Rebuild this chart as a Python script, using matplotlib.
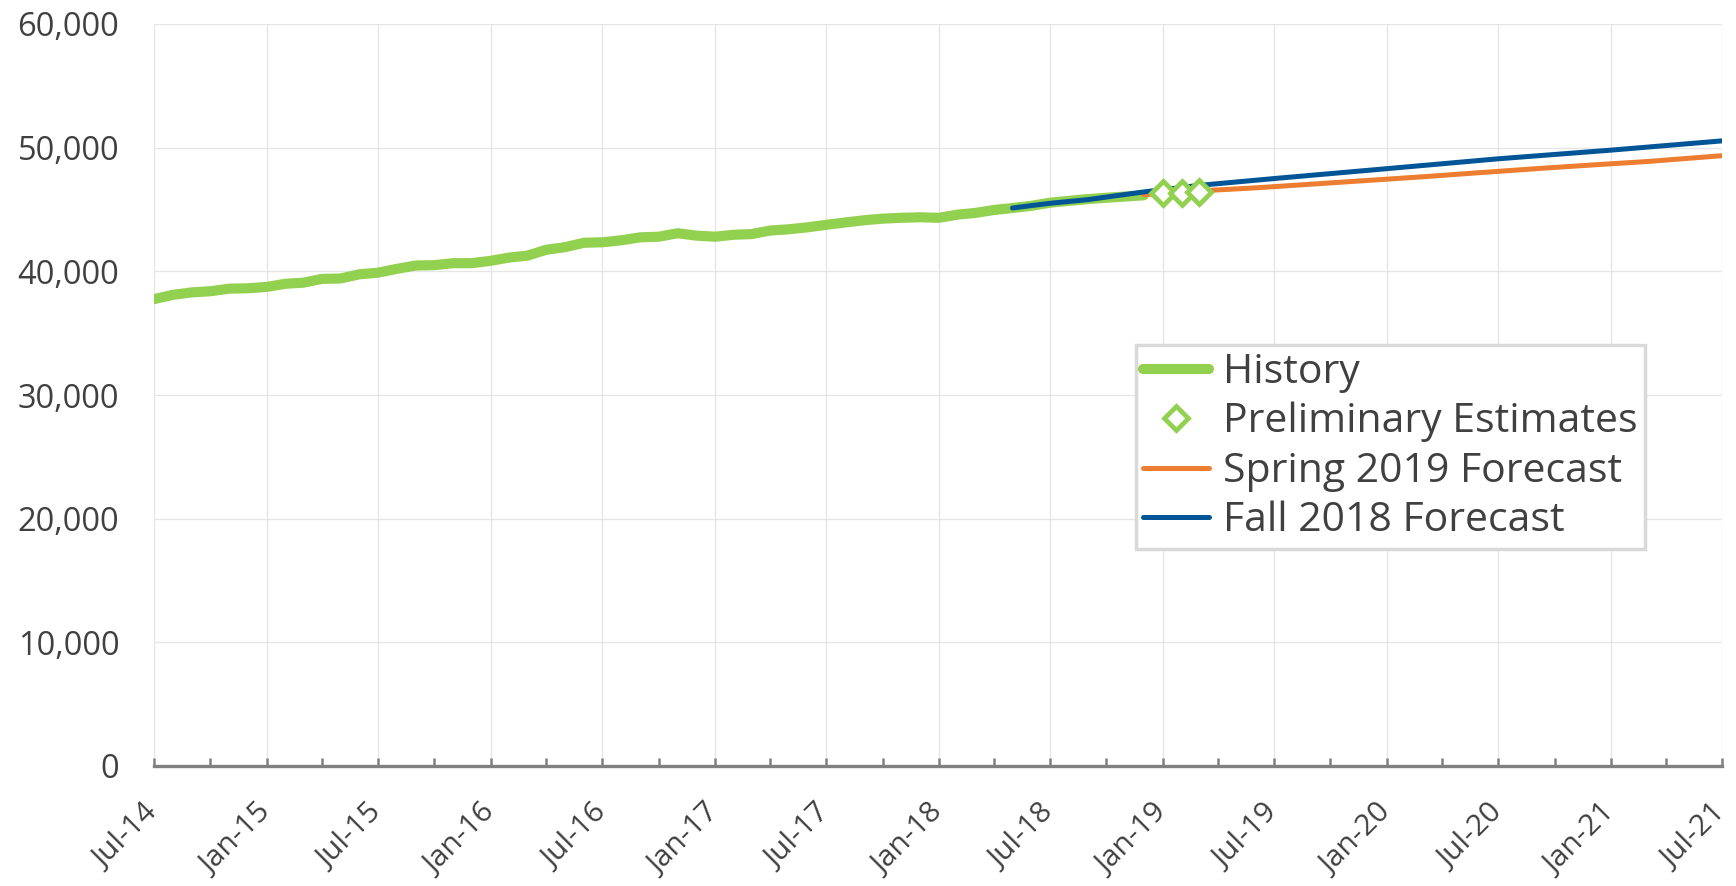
import matplotlib
matplotlib.use("Agg")
import matplotlib.pyplot as plt
import pandas as pd

# ---------------- data ----------------
history_start = "2014-07-01"
history_values = [37750, 38100, 38300, 38390, 38600, 38630, 38740, 39000, 39080, 39390,
                  39420, 39760, 39890, 40200, 40470, 40500, 40660, 40660, 40850, 41120,
                  41270, 41750, 41950, 42310, 42350, 42510, 42750, 42800, 43080, 42890,
                  42800, 42960, 43010, 43300, 43400, 43560, 43760, 43950, 44130, 44260,
                  44330, 44370, 44330, 44590, 44720, 44960, 45120, 45300, 45550, 45700,
                  45840, 45950, 46050, 46150]

prelim_months = ["2019-01-01", "2019-02-01", "2019-03-01"]
prelim_values = [46320, 46370, 46450]

spring_months = ["2018-12-01", "2019-03-01", "2019-06-01", "2019-09-01", "2019-12-01",
                 "2020-03-01", "2020-06-01", "2020-09-01", "2020-12-01", "2021-03-01",
                 "2021-07-01"]
spring_values = [46200, 46500, 46750, 47050, 47350, 47650, 47980, 48300, 48600, 48880, 49350]

fall_months = ["2018-05-01", "2018-06-01", "2018-07-01", "2018-09-01", "2018-12-01",
               "2019-03-01", "2019-07-01", "2020-01-01", "2020-07-01", "2021-01-01",
               "2021-07-01"]
fall_values = [45120, 45320, 45500, 45800, 46420, 46950, 47500, 48300, 49100, 49800, 50550]

series_labels = ["History", "Preliminary Estimates", "Spring 2019 Forecast", "Fall 2018 Forecast"]

x_tick_labels = ["Jul-14", "Jan-15", "Jul-15", "Jan-16", "Jul-16", "Jan-17", "Jul-17",
                 "Jan-18", "Jul-18", "Jan-19", "Jul-19", "Jan-20", "Jul-20", "Jan-21", "Jul-21"]
y_ticks = [0, 10000, 20000, 30000, 40000, 50000, 60000]

# ---------------- style ----------------
GREEN = "#92D050"
ORANGE = "#ED7D31"
BLUE = "#005596"
TEXT = "#404040"
GRID = "#e6e6e6"
AXIS = "#808080"

plt.rcParams["font.family"] = ["Open Sans", "DejaVu Sans"]

fig = plt.figure(figsize=(17.36, 8.86), dpi=100)
ax = fig.add_axes([154 / 1736, 1 - 766 / 886, (1722 - 154) / 1736, (766 - 24) / 886])

history_dates = pd.date_range(history_start, periods=len(history_values), freq="MS")
prelim_dates = pd.to_datetime(prelim_months)
spring_dates = pd.to_datetime(spring_months)
fall_dates = pd.to_datetime(fall_months)

ax.plot(history_dates, history_values, color=GREEN, lw=7.3, solid_capstyle="round",
        solid_joinstyle="round", label=series_labels[0], zorder=3)
ax.plot(prelim_dates, prelim_values, linestyle="none", marker="D", ms=12,
        mfc="white", mec=GREEN, mew=3.4, label=series_labels[1], zorder=6)
ax.plot(spring_dates, spring_values, color=ORANGE, lw=3.6, solid_capstyle="round",
        label=series_labels[2], zorder=4)
ax.plot(fall_dates, fall_values, color=BLUE, lw=3.6, solid_capstyle="round",
        label=series_labels[3], zorder=5)

# axes
ax.set_xlim(pd.Timestamp("2014-07-01"), pd.Timestamp("2021-07-01"))
ax.set_ylim(0, 60000)
major_dates = pd.date_range("2014-07-01", "2021-07-01", freq="6MS")
minor_dates = pd.date_range("2014-10-01", "2021-04-01", freq="6MS")
ax.set_xticks(major_dates)
ax.set_xticks(minor_dates, minor=True)
ax.set_xticklabels(x_tick_labels, rotation=45, ha="right", va="center",
                   rotation_mode="anchor", fontsize=21.5, color=TEXT)
ax.set_yticks(y_ticks)
ax.set_yticklabels([f"{v:,}" for v in y_ticks], fontsize=23.5, color=TEXT)

ax.tick_params(axis="x", which="both", direction="in", length=6, width=1.8,
               color=AXIS, pad=31)
ax.tick_params(axis="y", length=0, pad=25)

for s in ["top", "right", "left"]:
    ax.spines[s].set_visible(False)
ax.spines["bottom"].set_color(AXIS)
ax.spines["bottom"].set_linewidth(2.4)
ax.spines["bottom"].set_zorder(7)

ax.grid(True, which="major", color=GRID, lw=1.0)
ax.set_axisbelow(True)

leg = ax.legend(loc="upper left", bbox_to_anchor=((1136 - 154) / 1568, (766 - 345) / 742),
                borderaxespad=0, frameon=True, fancybox=False, framealpha=1,
                edgecolor="#d9d9d9", prop={"size": 29.5}, labelspacing=0.22,
                borderpad=0.18, handlelength=1.6, handletextpad=0.35, numpoints=1)
leg.get_frame().set_linewidth(2.5)
for t in leg.get_texts():
    t.set_color(TEXT)

fig.savefig("out.png", dpi=100, facecolor="white")
